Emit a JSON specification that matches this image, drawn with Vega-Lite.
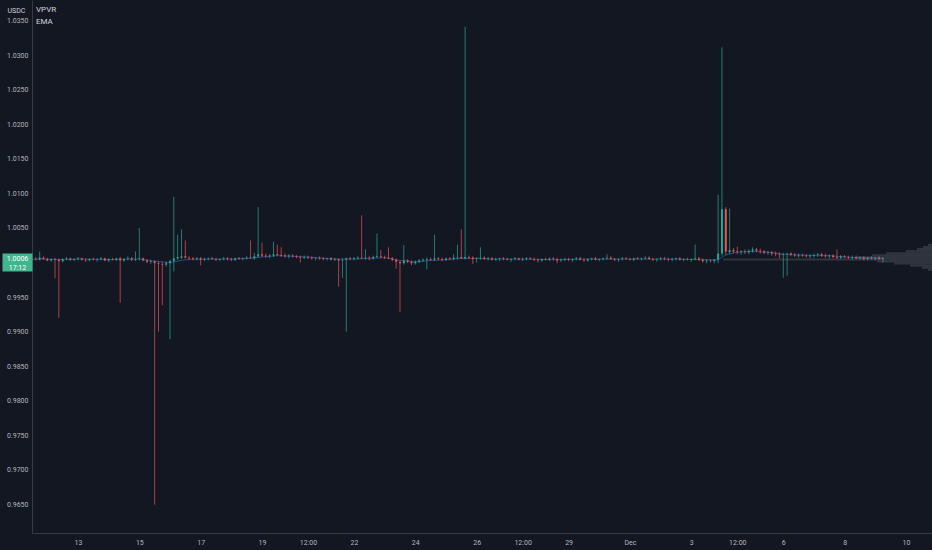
{
  "$schema": "https://vega.github.io/schema/vega-lite/v6.json",
  "width": 900,
  "height": 533,
  "autosize": "none",
  "padding": {"left": 32, "top": 0, "right": 0, "bottom": 17},
  "background": "#131722",
  "config": {
    "view": {"stroke": null},
    "font": "Roboto",
    "axis": {"grid": false, "labelFont": "Roboto", "labelColor": "#b2b5be", "labelFontSize": 7, "domainColor": "#363a45", "ticks": false, "title": null}
  },
  "title": {"text": ["VPVR", "EMA"], "anchor": "start", "frame": "group", "orient": "top", "offset": -26, "baseline": "top", "dx": 4, "fontSize": 8, "fontWeight": "normal", "color": "#d1d4dc", "lineHeight": 12},
  "datasets": {
    "vp": [
      {"lo": 1.0024, "hi": 1.0027, "v": 4},
      {"lo": 1.0021, "hi": 1.0024, "v": 9},
      {"lo": 1.0018, "hi": 1.0021, "v": 15},
      {"lo": 1.0015, "hi": 1.0018, "v": 26},
      {"lo": 1.0012, "hi": 1.0015, "v": 46},
      {"lo": 1.0009, "hi": 1.0012, "v": 60},
      {"lo": 1.0006, "hi": 1.0009, "v": 75},
      {"lo": 1.0003, "hi": 1.0006, "v": 209},
      {"lo": 1.0000, "hi": 1.0003, "v": 55},
      {"lo": 0.9997, "hi": 1.0000, "v": 38},
      {"lo": 0.9994, "hi": 0.9997, "v": 22},
      {"lo": 0.9991, "hi": 0.9994, "v": 10},
      {"lo": 0.9988, "hi": 0.9991, "v": 4}
    ],
    "ema": [
      {"t": "2022-11-11T12:00", "e": 1.0005}, {"t": "2022-11-12T00:00", "e": 1.0005}, {"t": "2022-11-12T12:00", "e": 1.0004},
      {"t": "2022-11-13T00:00", "e": 1.0005}, {"t": "2022-11-13T12:00", "e": 1.0005}, {"t": "2022-11-14T00:00", "e": 1.0004},
      {"t": "2022-11-14T12:00", "e": 1.0005}, {"t": "2022-11-15T00:00", "e": 1.0005}, {"t": "2022-11-15T12:00", "e": 1.0002},
      {"t": "2022-11-16T00:00", "e": 1.0000}, {"t": "2022-11-16T12:00", "e": 1.0004}, {"t": "2022-11-17T00:00", "e": 1.0005},
      {"t": "2022-11-17T12:00", "e": 1.0005}, {"t": "2022-11-18T00:00", "e": 1.0005}, {"t": "2022-11-18T12:00", "e": 1.0006},
      {"t": "2022-11-19T00:00", "e": 1.0008}, {"t": "2022-11-19T12:00", "e": 1.0010}, {"t": "2022-11-20T00:00", "e": 1.0009},
      {"t": "2022-11-20T12:00", "e": 1.0008}, {"t": "2022-11-21T00:00", "e": 1.0006}, {"t": "2022-11-21T12:00", "e": 1.0005},
      {"t": "2022-11-22T00:00", "e": 1.0005}, {"t": "2022-11-22T12:00", "e": 1.0006}, {"t": "2022-11-23T00:00", "e": 1.0007},
      {"t": "2022-11-23T12:00", "e": 1.0003}, {"t": "2022-11-24T00:00", "e": 1.0001}, {"t": "2022-11-24T12:00", "e": 1.0003},
      {"t": "2022-11-25T00:00", "e": 1.0004}, {"t": "2022-11-25T12:00", "e": 1.0006}, {"t": "2022-11-26T00:00", "e": 1.0006},
      {"t": "2022-11-26T12:00", "e": 1.0005}, {"t": "2022-11-27T12:00", "e": 1.0005}, {"t": "2022-11-28T12:00", "e": 1.0004},
      {"t": "2022-11-29T12:00", "e": 1.0005}, {"t": "2022-11-30T12:00", "e": 1.0005}, {"t": "2022-12-01T12:00", "e": 1.0005},
      {"t": "2022-12-02T12:00", "e": 1.0005}, {"t": "2022-12-03T12:00", "e": 1.0004}, {"t": "2022-12-03T21:00", "e": 1.0004},
      {"t": "2022-12-04T03:00", "e": 1.0011}, {"t": "2022-12-04T12:00", "e": 1.0015}, {"t": "2022-12-05T00:00", "e": 1.0016},
      {"t": "2022-12-05T12:00", "e": 1.0015}, {"t": "2022-12-06T00:00", "e": 1.0012}, {"t": "2022-12-06T12:00", "e": 1.0011},
      {"t": "2022-12-07T00:00", "e": 1.0010}, {"t": "2022-12-07T12:00", "e": 1.0010}, {"t": "2022-12-08T00:00", "e": 1.0008},
      {"t": "2022-12-08T12:00", "e": 1.0007}, {"t": "2022-12-09T06:00", "e": 1.0006}
    ],
    "ohlc": [
      {"t": "2022-11-11T12:00", "o": 1.0004, "h": 1.0007, "l": 1.0002, "c": 1.0005},
      {"t": "2022-11-11T15:00", "o": 1.0005, "h": 1.0008, "l": 1.0003, "c": 1.0004},
      {"t": "2022-11-11T18:00", "o": 1.0004, "h": 1.0016, "l": 1.0003, "c": 1.0007},
      {"t": "2022-11-11T21:00", "o": 1.0007, "h": 1.0009, "l": 1.0004, "c": 1.0005},
      {"t": "2022-11-12T00:00", "o": 1.0005, "h": 1.0007, "l": 1.0002, "c": 1.0003},
      {"t": "2022-11-12T03:00", "o": 1.0003, "h": 1.0006, "l": 1.0001, "c": 1.0005},
      {"t": "2022-11-12T06:00", "o": 1.0005, "h": 1.0007, "l": 0.9977, "c": 1.0004},
      {"t": "2022-11-12T09:00", "o": 1.0004, "h": 1.0006, "l": 0.9920, "c": 1.0002},
      {"t": "2022-11-12T12:00", "o": 1.0002, "h": 1.0006, "l": 1.0000, "c": 1.0005},
      {"t": "2022-11-12T15:00", "o": 1.0005, "h": 1.0008, "l": 1.0003, "c": 1.0006},
      {"t": "2022-11-12T18:00", "o": 1.0006, "h": 1.0007, "l": 1.0002, "c": 1.0004},
      {"t": "2022-11-12T21:00", "o": 1.0004, "h": 1.0006, "l": 1.0002, "c": 1.0005},
      {"t": "2022-11-13T00:00", "o": 1.0005, "h": 1.0008, "l": 1.0003, "c": 1.0006},
      {"t": "2022-11-13T03:00", "o": 1.0006, "h": 1.0007, "l": 1.0003, "c": 1.0004},
      {"t": "2022-11-13T06:00", "o": 1.0004, "h": 1.0006, "l": 1.0001, "c": 1.0003},
      {"t": "2022-11-13T09:00", "o": 1.0003, "h": 1.0006, "l": 1.0002, "c": 1.0005},
      {"t": "2022-11-13T12:00", "o": 1.0005, "h": 1.0007, "l": 1.0003, "c": 1.0004},
      {"t": "2022-11-13T15:00", "o": 1.0004, "h": 1.0006, "l": 1.0001, "c": 1.0005},
      {"t": "2022-11-13T18:00", "o": 1.0005, "h": 1.0008, "l": 1.0003, "c": 1.0006},
      {"t": "2022-11-13T21:00", "o": 1.0006, "h": 1.0007, "l": 1.0002, "c": 1.0003},
      {"t": "2022-11-14T00:00", "o": 1.0003, "h": 1.0006, "l": 1.0001, "c": 1.0005},
      {"t": "2022-11-14T03:00", "o": 1.0005, "h": 1.0007, "l": 1.0003, "c": 1.0004},
      {"t": "2022-11-14T06:00", "o": 1.0004, "h": 1.0007, "l": 1.0002, "c": 1.0006},
      {"t": "2022-11-14T09:00", "o": 1.0006, "h": 1.0008, "l": 0.9942, "c": 1.0003},
      {"t": "2022-11-14T12:00", "o": 1.0003, "h": 1.0006, "l": 1.0001, "c": 1.0005},
      {"t": "2022-11-14T15:00", "o": 1.0005, "h": 1.0009, "l": 1.0003, "c": 1.0006},
      {"t": "2022-11-14T18:00", "o": 1.0006, "h": 1.0008, "l": 1.0002, "c": 1.0004},
      {"t": "2022-11-14T21:00", "o": 1.0004, "h": 1.0016, "l": 1.0002, "c": 1.0005},
      {"t": "2022-11-15T00:00", "o": 1.0005, "h": 1.0050, "l": 1.0003, "c": 1.0006},
      {"t": "2022-11-15T03:00", "o": 1.0006, "h": 1.0007, "l": 1.0002, "c": 1.0003},
      {"t": "2022-11-15T06:00", "o": 1.0003, "h": 1.0005, "l": 0.9999, "c": 1.0001},
      {"t": "2022-11-15T09:00", "o": 1.0001, "h": 1.0004, "l": 0.9998, "c": 1.0002},
      {"t": "2022-11-15T12:00", "o": 1.0002, "h": 1.0003, "l": 0.9650, "c": 0.9999},
      {"t": "2022-11-15T15:00", "o": 0.9999, "h": 1.0002, "l": 0.9900, "c": 0.9998},
      {"t": "2022-11-15T18:00", "o": 0.9998, "h": 1.0001, "l": 0.9938, "c": 0.9997},
      {"t": "2022-11-15T21:00", "o": 0.9997, "h": 1.0001, "l": 0.9994, "c": 0.9999},
      {"t": "2022-11-16T00:00", "o": 0.9999, "h": 1.0004, "l": 0.9889, "c": 1.0002},
      {"t": "2022-11-16T03:00", "o": 1.0002, "h": 1.0095, "l": 0.9987, "c": 1.0006},
      {"t": "2022-11-16T06:00", "o": 1.0006, "h": 1.0040, "l": 1.0004, "c": 1.0008},
      {"t": "2022-11-16T09:00", "o": 1.0007, "h": 1.0048, "l": 1.0005, "c": 1.0009},
      {"t": "2022-11-16T12:00", "o": 1.0009, "h": 1.0032, "l": 1.0006, "c": 1.0007},
      {"t": "2022-11-16T15:00", "o": 1.0007, "h": 1.0009, "l": 1.0004, "c": 1.0006},
      {"t": "2022-11-16T18:00", "o": 1.0006, "h": 1.0008, "l": 1.0003, "c": 1.0005},
      {"t": "2022-11-16T21:00", "o": 1.0005, "h": 1.0008, "l": 1.0003, "c": 1.0006},
      {"t": "2022-11-17T00:00", "o": 1.0006, "h": 1.0008, "l": 0.9996, "c": 1.0004},
      {"t": "2022-11-17T03:00", "o": 1.0004, "h": 1.0007, "l": 1.0002, "c": 1.0005},
      {"t": "2022-11-17T06:00", "o": 1.0005, "h": 1.0007, "l": 1.0003, "c": 1.0006},
      {"t": "2022-11-17T09:00", "o": 1.0006, "h": 1.0008, "l": 1.0004, "c": 1.0005},
      {"t": "2022-11-17T12:00", "o": 1.0005, "h": 1.0007, "l": 1.0002, "c": 1.0004},
      {"t": "2022-11-17T15:00", "o": 1.0004, "h": 1.0006, "l": 1.0002, "c": 1.0005},
      {"t": "2022-11-17T18:00", "o": 1.0005, "h": 1.0008, "l": 1.0003, "c": 1.0006},
      {"t": "2022-11-17T21:00", "o": 1.0006, "h": 1.0008, "l": 1.0003, "c": 1.0005},
      {"t": "2022-11-18T00:00", "o": 1.0005, "h": 1.0007, "l": 1.0002, "c": 1.0004},
      {"t": "2022-11-18T03:00", "o": 1.0004, "h": 1.0007, "l": 1.0002, "c": 1.0006},
      {"t": "2022-11-18T06:00", "o": 1.0006, "h": 1.0008, "l": 1.0004, "c": 1.0005},
      {"t": "2022-11-18T09:00", "o": 1.0005, "h": 1.0007, "l": 1.0003, "c": 1.0006},
      {"t": "2022-11-18T12:00", "o": 1.0006, "h": 1.0009, "l": 1.0004, "c": 1.0007},
      {"t": "2022-11-18T15:00", "o": 1.0007, "h": 1.0032, "l": 1.0005, "c": 1.0006},
      {"t": "2022-11-18T18:00", "o": 1.0006, "h": 1.0014, "l": 1.0004, "c": 1.0009},
      {"t": "2022-11-18T21:00", "o": 1.0009, "h": 1.0080, "l": 1.0007, "c": 1.0012},
      {"t": "2022-11-19T00:00", "o": 1.0012, "h": 1.0029, "l": 1.0008, "c": 1.0010},
      {"t": "2022-11-19T03:00", "o": 1.0010, "h": 1.0013, "l": 1.0007, "c": 1.0009},
      {"t": "2022-11-19T06:00", "o": 1.0009, "h": 1.0012, "l": 1.0006, "c": 1.0010},
      {"t": "2022-11-19T09:00", "o": 1.0010, "h": 1.0030, "l": 1.0008, "c": 1.0012},
      {"t": "2022-11-19T12:00", "o": 1.0012, "h": 1.0026, "l": 1.0009, "c": 1.0011},
      {"t": "2022-11-19T15:00", "o": 1.0011, "h": 1.0022, "l": 1.0008, "c": 1.0010},
      {"t": "2022-11-19T18:00", "o": 1.0010, "h": 1.0013, "l": 1.0007, "c": 1.0009},
      {"t": "2022-11-19T21:00", "o": 1.0009, "h": 1.0012, "l": 1.0006, "c": 1.0010},
      {"t": "2022-11-20T00:00", "o": 1.0010, "h": 1.0012, "l": 1.0007, "c": 1.0009},
      {"t": "2022-11-20T03:00", "o": 1.0009, "h": 1.0011, "l": 1.0006, "c": 1.0008},
      {"t": "2022-11-20T06:00", "o": 1.0008, "h": 1.0010, "l": 1.0000, "c": 1.0007},
      {"t": "2022-11-20T09:00", "o": 1.0007, "h": 1.0010, "l": 1.0005, "c": 1.0008},
      {"t": "2022-11-20T12:00", "o": 1.0008, "h": 1.0010, "l": 1.0005, "c": 1.0007},
      {"t": "2022-11-20T15:00", "o": 1.0007, "h": 1.0009, "l": 1.0004, "c": 1.0006},
      {"t": "2022-11-20T18:00", "o": 1.0006, "h": 1.0008, "l": 1.0003, "c": 1.0007},
      {"t": "2022-11-20T21:00", "o": 1.0007, "h": 1.0009, "l": 1.0004, "c": 1.0006},
      {"t": "2022-11-21T00:00", "o": 1.0006, "h": 1.0008, "l": 1.0003, "c": 1.0005},
      {"t": "2022-11-21T03:00", "o": 1.0005, "h": 1.0007, "l": 1.0003, "c": 1.0006},
      {"t": "2022-11-21T06:00", "o": 1.0006, "h": 1.0008, "l": 1.0003, "c": 1.0004},
      {"t": "2022-11-21T09:00", "o": 1.0004, "h": 1.0007, "l": 1.0002, "c": 1.0005},
      {"t": "2022-11-21T12:00", "o": 1.0005, "h": 1.0006, "l": 0.9965, "c": 1.0003},
      {"t": "2022-11-21T15:00", "o": 1.0003, "h": 1.0006, "l": 0.9978, "c": 1.0004},
      {"t": "2022-11-21T18:00", "o": 1.0004, "h": 1.0007, "l": 0.9900, "c": 1.0006},
      {"t": "2022-11-21T21:00", "o": 1.0006, "h": 1.0008, "l": 1.0003, "c": 1.0005},
      {"t": "2022-11-22T00:00", "o": 1.0005, "h": 1.0008, "l": 1.0003, "c": 1.0006},
      {"t": "2022-11-22T03:00", "o": 1.0006, "h": 1.0009, "l": 1.0004, "c": 1.0007},
      {"t": "2022-11-22T06:00", "o": 1.0007, "h": 1.0068, "l": 1.0005, "c": 1.0006},
      {"t": "2022-11-22T09:00", "o": 1.0006, "h": 1.0019, "l": 1.0004, "c": 1.0007},
      {"t": "2022-11-22T12:00", "o": 1.0007, "h": 1.0009, "l": 1.0003, "c": 1.0006},
      {"t": "2022-11-22T15:00", "o": 1.0006, "h": 1.0010, "l": 1.0004, "c": 1.0008},
      {"t": "2022-11-22T18:00", "o": 1.0008, "h": 1.0042, "l": 1.0006, "c": 1.0009},
      {"t": "2022-11-22T21:00", "o": 1.0009, "h": 1.0018, "l": 1.0006, "c": 1.0008},
      {"t": "2022-11-23T00:00", "o": 1.0008, "h": 1.0010, "l": 1.0005, "c": 1.0007},
      {"t": "2022-11-23T03:00", "o": 1.0007, "h": 1.0022, "l": 1.0005, "c": 1.0006},
      {"t": "2022-11-23T06:00", "o": 1.0006, "h": 1.0008, "l": 1.0002, "c": 1.0004},
      {"t": "2022-11-23T09:00", "o": 1.0004, "h": 1.0006, "l": 0.9991, "c": 1.0001},
      {"t": "2022-11-23T12:00", "o": 1.0001, "h": 1.0003, "l": 0.9928, "c": 0.9999},
      {"t": "2022-11-23T15:00", "o": 0.9999, "h": 1.0025, "l": 0.9997, "c": 1.0003},
      {"t": "2022-11-23T18:00", "o": 1.0003, "h": 1.0005, "l": 0.9999, "c": 1.0001},
      {"t": "2022-11-23T21:00", "o": 1.0001, "h": 1.0003, "l": 0.9996, "c": 0.9999},
      {"t": "2022-11-24T00:00", "o": 0.9999, "h": 1.0003, "l": 0.9997, "c": 1.0001},
      {"t": "2022-11-24T03:00", "o": 1.0001, "h": 1.0005, "l": 0.9999, "c": 1.0003},
      {"t": "2022-11-24T06:00", "o": 1.0003, "h": 1.0006, "l": 1.0001, "c": 1.0004},
      {"t": "2022-11-24T09:00", "o": 1.0004, "h": 1.0007, "l": 0.9990, "c": 1.0005},
      {"t": "2022-11-24T12:00", "o": 1.0005, "h": 1.0007, "l": 1.0002, "c": 1.0004},
      {"t": "2022-11-24T15:00", "o": 1.0004, "h": 1.0040, "l": 1.0002, "c": 1.0006},
      {"t": "2022-11-24T18:00", "o": 1.0006, "h": 1.0008, "l": 1.0003, "c": 1.0005},
      {"t": "2022-11-24T21:00", "o": 1.0005, "h": 1.0007, "l": 1.0002, "c": 1.0004},
      {"t": "2022-11-25T00:00", "o": 1.0004, "h": 1.0007, "l": 1.0002, "c": 1.0006},
      {"t": "2022-11-25T03:00", "o": 1.0006, "h": 1.0008, "l": 1.0003, "c": 1.0005},
      {"t": "2022-11-25T06:00", "o": 1.0005, "h": 1.0012, "l": 1.0003, "c": 1.0007},
      {"t": "2022-11-25T09:00", "o": 1.0007, "h": 1.0026, "l": 1.0004, "c": 1.0008},
      {"t": "2022-11-25T12:00", "o": 1.0008, "h": 1.0048, "l": 1.0005, "c": 1.0006},
      {"t": "2022-11-25T15:00", "o": 1.0006, "h": 1.0341, "l": 1.0004, "c": 1.0008},
      {"t": "2022-11-25T18:00", "o": 1.0008, "h": 1.0010, "l": 1.0005, "c": 1.0007},
      {"t": "2022-11-25T21:00", "o": 1.0007, "h": 1.0009, "l": 0.9998, "c": 1.0005},
      {"t": "2022-11-26T00:00", "o": 1.0005, "h": 1.0008, "l": 1.0000, "c": 1.0006},
      {"t": "2022-11-26T03:00", "o": 1.0006, "h": 1.0022, "l": 1.0004, "c": 1.0007},
      {"t": "2022-11-26T06:00", "o": 1.0007, "h": 1.0009, "l": 1.0004, "c": 1.0005},
      {"t": "2022-11-26T09:00", "o": 1.0005, "h": 1.0008, "l": 1.0003, "c": 1.0006},
      {"t": "2022-11-26T12:00", "o": 1.0006, "h": 1.0008, "l": 1.0003, "c": 1.0004},
      {"t": "2022-11-26T15:00", "o": 1.0004, "h": 1.0007, "l": 1.0002, "c": 1.0005},
      {"t": "2022-11-26T18:00", "o": 1.0005, "h": 1.0007, "l": 1.0002, "c": 1.0006},
      {"t": "2022-11-26T21:00", "o": 1.0006, "h": 1.0008, "l": 1.0003, "c": 1.0005},
      {"t": "2022-11-27T00:00", "o": 1.0005, "h": 1.0007, "l": 1.0003, "c": 1.0004},
      {"t": "2022-11-27T03:00", "o": 1.0004, "h": 1.0006, "l": 1.0001, "c": 1.0005},
      {"t": "2022-11-27T06:00", "o": 1.0005, "h": 1.0008, "l": 1.0003, "c": 1.0006},
      {"t": "2022-11-27T09:00", "o": 1.0006, "h": 1.0007, "l": 1.0003, "c": 1.0004},
      {"t": "2022-11-27T12:00", "o": 1.0004, "h": 1.0007, "l": 1.0002, "c": 1.0005},
      {"t": "2022-11-27T15:00", "o": 1.0005, "h": 1.0008, "l": 1.0003, "c": 1.0006},
      {"t": "2022-11-27T18:00", "o": 1.0006, "h": 1.0008, "l": 1.0004, "c": 1.0005},
      {"t": "2022-11-27T21:00", "o": 1.0005, "h": 1.0007, "l": 1.0002, "c": 1.0004},
      {"t": "2022-11-28T00:00", "o": 1.0004, "h": 1.0006, "l": 1.0000, "c": 1.0003},
      {"t": "2022-11-28T03:00", "o": 1.0003, "h": 1.0006, "l": 1.0001, "c": 1.0005},
      {"t": "2022-11-28T06:00", "o": 1.0005, "h": 1.0007, "l": 1.0003, "c": 1.0004},
      {"t": "2022-11-28T09:00", "o": 1.0004, "h": 1.0007, "l": 1.0002, "c": 1.0006},
      {"t": "2022-11-28T12:00", "o": 1.0006, "h": 1.0008, "l": 1.0003, "c": 1.0005},
      {"t": "2022-11-28T15:00", "o": 1.0005, "h": 1.0007, "l": 0.9999, "c": 1.0003},
      {"t": "2022-11-28T18:00", "o": 1.0003, "h": 1.0006, "l": 1.0001, "c": 1.0004},
      {"t": "2022-11-28T21:00", "o": 1.0004, "h": 1.0007, "l": 1.0002, "c": 1.0005},
      {"t": "2022-11-29T00:00", "o": 1.0005, "h": 1.0007, "l": 1.0002, "c": 1.0004},
      {"t": "2022-11-29T03:00", "o": 1.0004, "h": 1.0006, "l": 1.0001, "c": 1.0005},
      {"t": "2022-11-29T06:00", "o": 1.0005, "h": 1.0008, "l": 1.0003, "c": 1.0006},
      {"t": "2022-11-29T09:00", "o": 1.0006, "h": 1.0008, "l": 1.0003, "c": 1.0004},
      {"t": "2022-11-29T12:00", "o": 1.0004, "h": 1.0006, "l": 1.0001, "c": 1.0003},
      {"t": "2022-11-29T15:00", "o": 1.0003, "h": 1.0006, "l": 1.0001, "c": 1.0005},
      {"t": "2022-11-29T18:00", "o": 1.0005, "h": 1.0007, "l": 1.0003, "c": 1.0006},
      {"t": "2022-11-29T21:00", "o": 1.0006, "h": 1.0008, "l": 1.0003, "c": 1.0004},
      {"t": "2022-11-30T00:00", "o": 1.0004, "h": 1.0006, "l": 1.0002, "c": 1.0005},
      {"t": "2022-11-30T03:00", "o": 1.0005, "h": 1.0007, "l": 1.0003, "c": 1.0006},
      {"t": "2022-11-30T06:00", "o": 1.0006, "h": 1.0012, "l": 1.0004, "c": 1.0007},
      {"t": "2022-11-30T09:00", "o": 1.0007, "h": 1.0009, "l": 1.0004, "c": 1.0005},
      {"t": "2022-11-30T12:00", "o": 1.0005, "h": 1.0007, "l": 1.0002, "c": 1.0004},
      {"t": "2022-11-30T15:00", "o": 1.0004, "h": 1.0006, "l": 1.0001, "c": 1.0005},
      {"t": "2022-11-30T18:00", "o": 1.0005, "h": 1.0008, "l": 1.0003, "c": 1.0006},
      {"t": "2022-11-30T21:00", "o": 1.0006, "h": 1.0008, "l": 1.0004, "c": 1.0005},
      {"t": "2022-12-01T00:00", "o": 1.0005, "h": 1.0007, "l": 1.0003, "c": 1.0004},
      {"t": "2022-12-01T03:00", "o": 1.0004, "h": 1.0007, "l": 1.0002, "c": 1.0006},
      {"t": "2022-12-01T06:00", "o": 1.0006, "h": 1.0008, "l": 1.0004, "c": 1.0005},
      {"t": "2022-12-01T09:00", "o": 1.0005, "h": 1.0007, "l": 1.0003, "c": 1.0006},
      {"t": "2022-12-01T12:00", "o": 1.0006, "h": 1.0009, "l": 1.0004, "c": 1.0007},
      {"t": "2022-12-01T15:00", "o": 1.0007, "h": 1.0009, "l": 1.0004, "c": 1.0005},
      {"t": "2022-12-01T18:00", "o": 1.0005, "h": 1.0007, "l": 1.0002, "c": 1.0004},
      {"t": "2022-12-01T21:00", "o": 1.0004, "h": 1.0006, "l": 1.0001, "c": 1.0005},
      {"t": "2022-12-02T00:00", "o": 1.0005, "h": 1.0008, "l": 1.0003, "c": 1.0006},
      {"t": "2022-12-02T03:00", "o": 1.0006, "h": 1.0008, "l": 1.0003, "c": 1.0005},
      {"t": "2022-12-02T06:00", "o": 1.0005, "h": 1.0007, "l": 1.0002, "c": 1.0004},
      {"t": "2022-12-02T09:00", "o": 1.0004, "h": 1.0007, "l": 1.0002, "c": 1.0005},
      {"t": "2022-12-02T12:00", "o": 1.0005, "h": 1.0007, "l": 1.0003, "c": 1.0006},
      {"t": "2022-12-02T15:00", "o": 1.0006, "h": 1.0008, "l": 1.0003, "c": 1.0004},
      {"t": "2022-12-02T18:00", "o": 1.0004, "h": 1.0006, "l": 1.0002, "c": 1.0005},
      {"t": "2022-12-02T21:00", "o": 1.0005, "h": 1.0007, "l": 1.0003, "c": 1.0004},
      {"t": "2022-12-03T00:00", "o": 1.0004, "h": 1.0006, "l": 1.0001, "c": 1.0005},
      {"t": "2022-12-03T03:00", "o": 1.0005, "h": 1.0026, "l": 1.0003, "c": 1.0006},
      {"t": "2022-12-03T06:00", "o": 1.0006, "h": 1.0008, "l": 1.0002, "c": 1.0004},
      {"t": "2022-12-03T09:00", "o": 1.0004, "h": 1.0006, "l": 1.0000, "c": 1.0002},
      {"t": "2022-12-03T12:00", "o": 1.0002, "h": 1.0005, "l": 0.9999, "c": 1.0003},
      {"t": "2022-12-03T15:00", "o": 1.0003, "h": 1.0005, "l": 1.0000, "c": 1.0002},
      {"t": "2022-12-03T18:00", "o": 1.0002, "h": 1.0005, "l": 0.9999, "c": 1.0004},
      {"t": "2022-12-03T21:00", "o": 1.0004, "h": 1.0098, "l": 0.9999, "c": 1.0013},
      {"t": "2022-12-04T00:00", "o": 1.0013, "h": 1.0311, "l": 1.0010, "c": 1.0077},
      {"t": "2022-12-04T03:00", "o": 1.0077, "h": 1.0080, "l": 1.0011, "c": 1.0016},
      {"t": "2022-12-04T06:00", "o": 1.0015, "h": 1.0078, "l": 1.0012, "c": 1.0018},
      {"t": "2022-12-04T09:00", "o": 1.0018, "h": 1.0021, "l": 1.0013, "c": 1.0016},
      {"t": "2022-12-04T12:00", "o": 1.0016, "h": 1.0023, "l": 1.0012, "c": 1.0015},
      {"t": "2022-12-04T15:00", "o": 1.0015, "h": 1.0018, "l": 1.0011, "c": 1.0016},
      {"t": "2022-12-04T18:00", "o": 1.0016, "h": 1.0019, "l": 1.0012, "c": 1.0015},
      {"t": "2022-12-04T21:00", "o": 1.0015, "h": 1.0019, "l": 1.0012, "c": 1.0017},
      {"t": "2022-12-05T00:00", "o": 1.0017, "h": 1.0022, "l": 1.0014, "c": 1.0019},
      {"t": "2022-12-05T03:00", "o": 1.0019, "h": 1.0021, "l": 1.0015, "c": 1.0017},
      {"t": "2022-12-05T06:00", "o": 1.0017, "h": 1.0020, "l": 1.0013, "c": 1.0016},
      {"t": "2022-12-05T09:00", "o": 1.0016, "h": 1.0018, "l": 1.0012, "c": 1.0014},
      {"t": "2022-12-05T12:00", "o": 1.0014, "h": 1.0017, "l": 1.0011, "c": 1.0015},
      {"t": "2022-12-05T15:00", "o": 1.0015, "h": 1.0017, "l": 1.0010, "c": 1.0013},
      {"t": "2022-12-05T18:00", "o": 1.0013, "h": 1.0016, "l": 1.0009, "c": 1.0012},
      {"t": "2022-12-05T21:00", "o": 1.0012, "h": 1.0015, "l": 1.0006, "c": 1.0011},
      {"t": "2022-12-06T00:00", "o": 1.0011, "h": 1.0014, "l": 0.9978, "c": 1.0012},
      {"t": "2022-12-06T03:00", "o": 1.0012, "h": 1.0014, "l": 0.9981, "c": 1.0013},
      {"t": "2022-12-06T06:00", "o": 1.0013, "h": 1.0015, "l": 1.0009, "c": 1.0011},
      {"t": "2022-12-06T09:00", "o": 1.0011, "h": 1.0014, "l": 1.0008, "c": 1.0010},
      {"t": "2022-12-06T12:00", "o": 1.0010, "h": 1.0013, "l": 1.0007, "c": 1.0011},
      {"t": "2022-12-06T15:00", "o": 1.0011, "h": 1.0013, "l": 1.0008, "c": 1.0010},
      {"t": "2022-12-06T18:00", "o": 1.0010, "h": 1.0012, "l": 1.0007, "c": 1.0009},
      {"t": "2022-12-06T21:00", "o": 1.0009, "h": 1.0012, "l": 1.0006, "c": 1.0010},
      {"t": "2022-12-07T00:00", "o": 1.0010, "h": 1.0013, "l": 1.0007, "c": 1.0011},
      {"t": "2022-12-07T03:00", "o": 1.0011, "h": 1.0014, "l": 1.0008, "c": 1.0012},
      {"t": "2022-12-07T06:00", "o": 1.0012, "h": 1.0014, "l": 1.0008, "c": 1.0010},
      {"t": "2022-12-07T09:00", "o": 1.0010, "h": 1.0013, "l": 1.0007, "c": 1.0009},
      {"t": "2022-12-07T12:00", "o": 1.0009, "h": 1.0012, "l": 1.0006, "c": 1.0010},
      {"t": "2022-12-07T15:00", "o": 1.0010, "h": 1.0012, "l": 1.0006, "c": 1.0008},
      {"t": "2022-12-07T18:00", "o": 1.0008, "h": 1.0019, "l": 1.0005, "c": 1.0007},
      {"t": "2022-12-07T21:00", "o": 1.0007, "h": 1.0011, "l": 1.0005, "c": 1.0009},
      {"t": "2022-12-08T00:00", "o": 1.0009, "h": 1.0011, "l": 1.0006, "c": 1.0008},
      {"t": "2022-12-08T03:00", "o": 1.0008, "h": 1.0010, "l": 1.0005, "c": 1.0007},
      {"t": "2022-12-08T06:00", "o": 1.0007, "h": 1.0010, "l": 1.0004, "c": 1.0008},
      {"t": "2022-12-08T09:00", "o": 1.0008, "h": 1.0010, "l": 1.0005, "c": 1.0006},
      {"t": "2022-12-08T12:00", "o": 1.0006, "h": 1.0009, "l": 1.0004, "c": 1.0007},
      {"t": "2022-12-08T15:00", "o": 1.0007, "h": 1.0009, "l": 1.0003, "c": 1.0005},
      {"t": "2022-12-08T18:00", "o": 1.0005, "h": 1.0008, "l": 1.0003, "c": 1.0007},
      {"t": "2022-12-08T21:00", "o": 1.0007, "h": 1.0009, "l": 1.0004, "c": 1.0006},
      {"t": "2022-12-09T00:00", "o": 1.0006, "h": 1.0008, "l": 1.0003, "c": 1.0007},
      {"t": "2022-12-09T03:00", "o": 1.0007, "h": 1.0009, "l": 1.0004, "c": 1.0005},
      {"t": "2022-12-09T06:00", "o": 1.0005, "h": 1.0008, "l": 1.0000, "c": 1.0006}
    ]
  },
  "resolve": {"scale": {"x": "independent"}, "axis": {"y": "independent"}},
  "layer": [
    {
      "data": {"name": "vp"},
      "mark": {"type": "rect", "color": "#787b86", "opacity": 0.3},
      "encoding": {
        "x": {"field": "v", "type": "quantitative", "scale": {"domain": [0, 900], "reverse": true, "nice": false, "zero": true}, "axis": null},
        "x2": {"datum": 0},
        "y": {"field": "lo", "type": "quantitative", "scale": {"domain": [0.96088, 1.03797], "nice": false, "zero": false}, "axis": null},
        "y2": {"field": "hi"}
      }
    },
    {
      "resolve": {"axis": {"y": "independent"}},
      "layer": [
        {
          "data": {"name": "ema"},
          "mark": {"type": "line", "color": "#2f80ed", "strokeWidth": 1, "opacity": 0.5},
          "encoding": {
            "x": {
              "field": "t", "type": "temporal",
              "scale": {"domain": [{"year": 2022, "month": "nov", "date": 11, "hours": 12}, {"year": 2022, "month": "dec", "date": 10, "hours": 20, "minutes": 24}], "nice": false, "padding": 0},
              "axis": {
                "orient": "bottom",
                "values": [
                  {"year": 2022, "month": "nov", "date": 13}, {"year": 2022, "month": "nov", "date": 15},
                  {"year": 2022, "month": "nov", "date": 17}, {"year": 2022, "month": "nov", "date": 19},
                  {"year": 2022, "month": "nov", "date": 20, "hours": 12}, {"year": 2022, "month": "nov", "date": 22},
                  {"year": 2022, "month": "nov", "date": 24}, {"year": 2022, "month": "nov", "date": 26},
                  {"year": 2022, "month": "nov", "date": 27, "hours": 12}, {"year": 2022, "month": "nov", "date": 29},
                  {"year": 2022, "month": "dec", "date": 1}, {"year": 2022, "month": "dec", "date": 3},
                  {"year": 2022, "month": "dec", "date": 4, "hours": 12}, {"year": 2022, "month": "dec", "date": 6},
                  {"year": 2022, "month": "dec", "date": 8}, {"year": 2022, "month": "dec", "date": 10}
                ],
                "labelExpr": "hours(datum.value) == 12 ? '12:00' : (date(datum.value) == 1 ? timeFormat(datum.value, '%b') : timeFormat(datum.value, '%-d'))",
                "labelPadding": 5,
                "labelFlush": false,
                "labelOverlap": false
              }
            },
            "y": {
              "field": "e", "type": "quantitative",
              "scale": {"domain": [0.96088, 1.03797], "nice": false, "zero": false},
              "axis": {
                "orient": "left",
                "values": [0.965, 0.97, 0.975, 0.98, 0.985, 0.99, 0.995, 1.005, 1.01, 1.015, 1.02, 1.025, 1.03, 1.035],
                "format": ".4f",
                "labelPadding": 4
              }
            }
          }
        },
        {
          "data": {"name": "ohlc"},
          "mark": {"type": "rule", "strokeWidth": 1, "opacity": 0.7},
          "encoding": {
            "x": {"field": "t", "type": "temporal"},
            "y": {"field": "l", "type": "quantitative", "axis": null},
            "y2": {"field": "h"},
            "color": {"condition": {"test": "datum.c >= datum.o", "value": "#26a69a"}, "value": "#ef5350"}
          }
        },
        {
          "data": {"name": "ohlc"},
          "mark": {"type": "bar", "size": 2},
          "encoding": {
            "x": {"field": "t", "type": "temporal"},
            "y": {"field": "o", "type": "quantitative", "axis": null},
            "y2": {"field": "c"},
            "color": {"condition": {"test": "datum.c >= datum.o", "value": "#26a69a"}, "value": "#ef5350"}
          }
        },
        {
          "data": {"values": [{"p": 1.0006}]},
          "mark": {"type": "rule", "strokeOpacity": 0},
          "encoding": {
            "y": {
              "field": "p", "type": "quantitative",
              "axis": {
                "orient": "left",
                "values": [1.0006],
                "domain": false,
                "ticks": true,
                "tickSize": 30,
                "tickWidth": 18,
                "tickCap": "butt",
                "tickColor": "#3fb68b",
                "tickOffset": 4,
                "labelExpr": "['1.0006', '17:12']",
                "labelAlign": "center",
                "labelBaseline": "middle",
                "labelPadding": -15,
                "labelOffset": -4,
                "labelColor": "#ffffff",
                "labelFontSize": 7,
                "labelLineHeight": 9,
                "title": "USDC",
                "titleAngle": 0,
                "titleX": -16,
                "titleY": 10,
                "titleAlign": "center",
                "titleBaseline": "middle",
                "titleFontSize": 7,
                "titleFontWeight": "normal",
                "titleColor": "#d1d4dc"
              }
            }
          }
        }
      ]
    }
  ]
}
